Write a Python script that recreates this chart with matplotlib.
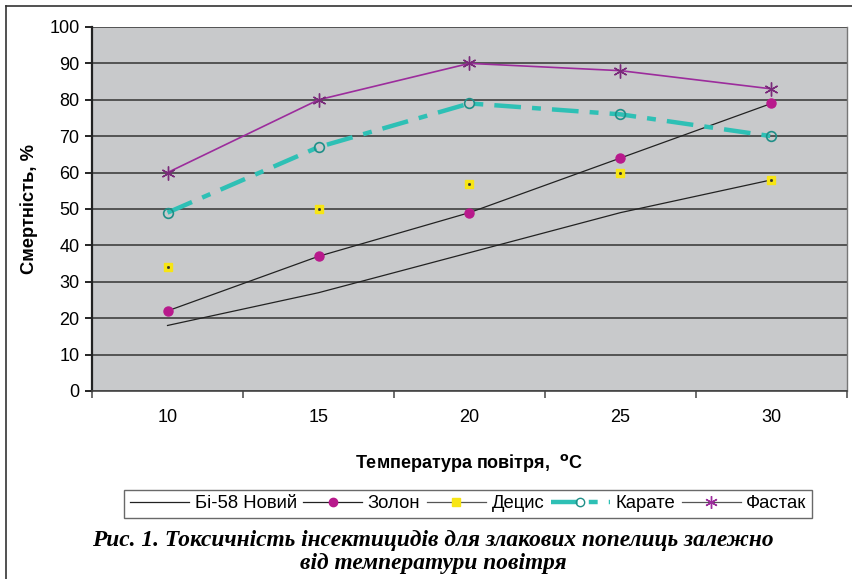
import matplotlib
matplotlib.use('Agg')
import matplotlib.pyplot as plt
from matplotlib.lines import Line2D

plt.rcParams['font.family'] = ['Liberation Sans', 'DejaVu Sans']

temps = ['10', '15', '20', '25', '30']
bi58 = [18, 27, 38, 49, 58]
zolon = [22, 37, 49, 64, 79]
detsys = [34, 50, 57, 60, 58]
karate = [49, 67, 79, 76, 70]
fastak = [60, 80, 90, 88, 83]

series_names = ['Бі-58 Новий', 'Золон', 'Децис', 'Карате', 'Фастак']

fig = plt.figure(figsize=(8.53, 5.79), dpi=100)
ax = fig.add_axes([0.1079, 0.3247, 0.885, 0.6287])
ax.set_facecolor('#c8c9cb')

x = list(range(len(temps)))

ax.plot(x, bi58, color='#222222', lw=0.9)
ax.plot(x, zolon, color='#222222', lw=0.9, marker='o', ms=6.5,
        mfc='#b8198c', mec='#b8198c')
ax.plot(x, detsys, ls='none', marker='s', ms=6, mfc='#f7e515', mec='#f7e515')
ax.plot(x, detsys, ls='none', marker='s', ms=1, mfc='#333333', mec='#333333')
ax.plot(x, karate, color='#2ec0b5', lw=3.2, dashes=(6, 2.5, 2, 2.5))
ax.plot(x, karate, ls='none', marker='o', ms=7, mfc='none', mec='#1f8f88', mew=1.2)
ax.plot(x, fastak, color='#9c2c9c', lw=1.2, marker=(6, 2, 0), ms=10,
        mec='#7a2a7a', mew=1.0)

ax.set_xlim(-0.5, 4.5)
ax.set_ylim(0, 100)
ax.set_yticks(range(0, 101, 10))
ax.set_xticks(x)
ax.set_xticklabels(temps)
ax.set_xticks([i - 0.5 for i in range(6)], minor=True)
ax.tick_params(axis='x', which='major', length=0, pad=13, labelsize=13)
ax.tick_params(axis='x', which='minor', length=5, width=1.2, color='#555555', direction='out')
ax.tick_params(axis='y', length=5, width=1.2, labelsize=13, pad=4)
ax.yaxis.grid(True, color='#4a4a4a', lw=1.3)
ax.set_axisbelow(True)

ax.spines['left'].set_linewidth(1.6)
ax.spines['left'].set_color('#222222')
ax.spines['bottom'].set_linewidth(1.2)
ax.spines['bottom'].set_color('#444444')
ax.spines['top'].set_visible(False)
ax.spines['right'].set_color('#777777')
ax.spines['right'].set_linewidth(1.0)

ax.set_ylabel('Смертність, %', fontsize=13.2, fontweight='bold', labelpad=8)
ax.set_xlabel('Температура повітря,  $^{\\mathbf{o}}$C', fontsize=13,
              fontweight='bold', labelpad=19)

handles = [
    Line2D([], [], color='#222222', lw=0.9),
    Line2D([], [], color='#222222', lw=0.9, marker='o', ms=6, mfc='#b8198c', mec='#b8198c'),
    Line2D([], [], color='#555555', lw=0.9, marker='s', ms=6, mfc='#f7e515', mec='#f7e515'),
    Line2D([], [], color='#2ec0b5', lw=3.2, dashes=(6, 2.5, 2, 2.5), marker='o', ms=6,
           mfc='none', mec='#1f8f88'),
    Line2D([], [], color='#555555', lw=0.9, marker=(6, 2, 0), ms=9, mec='#9c2c9c'),
]
leg = fig.legend(handles, series_names, loc='center', bbox_to_anchor=(0.549, 0.130),
                 ncol=5, fontsize=13.3, frameon=True, fancybox=False, edgecolor='#444444',
                 handlelength=3.2, handletextpad=0.3, columnspacing=0.35,
                 borderpad=0.3)
leg.get_frame().set_linewidth(1.0)

fig.text(0.508, 0.067, 'Рис. 1. Токсичність інсектицидів для злакових попелиць залежно',
         ha='center', va='center', fontsize=16.8, fontweight='bold', style='italic',
         family=['Liberation Serif', 'DejaVu Serif'])
fig.text(0.508, 0.027, 'від температури повітря',
         ha='center', va='center', fontsize=16.8, fontweight='bold', style='italic',
         family=['Liberation Serif', 'DejaVu Serif'])

# frame of the page
fig.add_artist(Line2D([0.007, 0.007], [0, 0.99], transform=fig.transFigure, color='#333333', lw=1.2))
fig.add_artist(Line2D([0.007, 1], [0.99, 0.99], transform=fig.transFigure, color='#333333', lw=1.2))

fig.savefig('out.png', dpi=100)
